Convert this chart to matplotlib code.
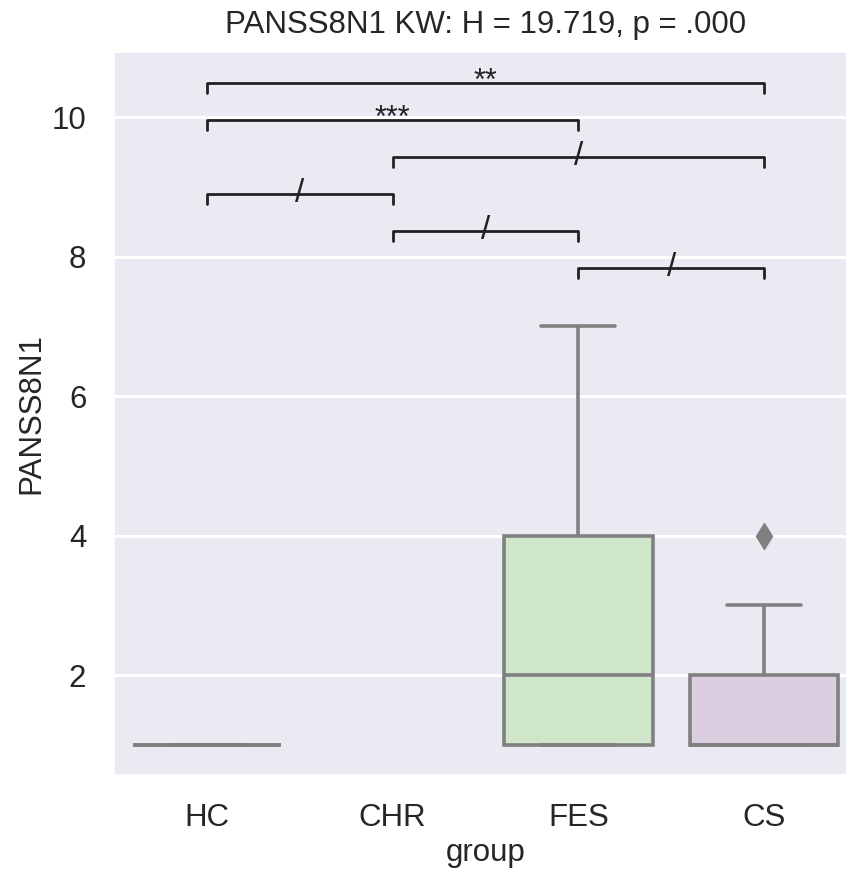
import matplotlib
matplotlib.use('Agg')
import matplotlib.pyplot as plt
import seaborn as sns
import pandas as pd

groups = ['HC', 'CHR', 'FES', 'CS']
hc_vals = [1, 1, 1, 1, 1, 1, 1, 1, 1, 1]
chr_vals = []
fes_vals = [1, 1, 1, 1, 2, 2, 2, 3, 4, 4, 5, 7]
cs_vals = [1, 1, 1, 1, 1, 1, 2, 2, 2, 3, 4]

pairs = [('FES', 'CS'), ('CHR', 'FES'), ('HC', 'CHR'), ('CHR', 'CS'), ('HC', 'FES'), ('HC', 'CS')]
pair_labels = ['/', '/', '/', '/', '***', '**']

title = 'PANSS8N1 KW: H = 19.719, p = .000'

rows = []
for g, vals in zip(groups, [hc_vals, chr_vals, fes_vals, cs_vals]):
    for v in vals:
        rows.append((g, v))
df = pd.DataFrame(rows, columns=['group', 'PANSS8N1'])

sns.set_theme(style='darkgrid')
plt.rcParams['font.family'] = ['Liberation Sans', 'DejaVu Sans']
plt.rcParams['text.color'] = '#262626'

fig = plt.figure(figsize=(8.46, 8.74), dpi=100)
ax = fig.add_axes([0.1348, 0.1133, 0.878, 0.827])

pal = sns.color_palette('Pastel1', 4)
sns.boxplot(data=df, x='group', y='PANSS8N1', hue='group', order=groups, hue_order=groups,
            palette=pal, legend=False, linewidth=2.6, linecolor='#808080', saturation=0.75,
            flierprops=dict(marker='d', markersize=13, markerfacecolor='#808080',
                            markeredgecolor='#808080'), ax=ax)

# significance brackets
pos = {g: i for i, g in enumerate(groups)}
for lvl, ((a, b), lab) in enumerate(zip(pairs, pair_labels)):
    y = 7.84 + 0.53 * lvl
    x1, x2 = pos[a], pos[b]
    ax.plot([x1, x1, x2, x2], [y - 0.14, y, y, y - 0.14], color='#222222', lw=2.0)
    if lab == '/':
        ax.text((x1 + x2) / 2, y, lab, ha='center', va='center', fontsize=24, color='#222222')
    else:
        ax.text((x1 + x2) / 2, y - 0.2, lab, ha='center', va='bottom', fontsize=22, color='#222222')

ax.set_xlim(-0.5, 3.5)
ax.set_ylim(0.57, 10.93)
ax.set_yticks([2, 4, 6, 8, 10])
ax.grid(axis='y', color='white', lw=2.2)
ax.xaxis.grid(False)
ax.tick_params(labelsize=22.5, pad=14, colors='#262626')
ax.set_xlabel('group', fontsize=22.5, labelpad=4)
ax.set_ylabel('PANSS8N1', fontsize=22.5, labelpad=4)
ax.set_title(title, fontsize=22.5, pad=14)

fig.savefig('out.png', dpi=100)
